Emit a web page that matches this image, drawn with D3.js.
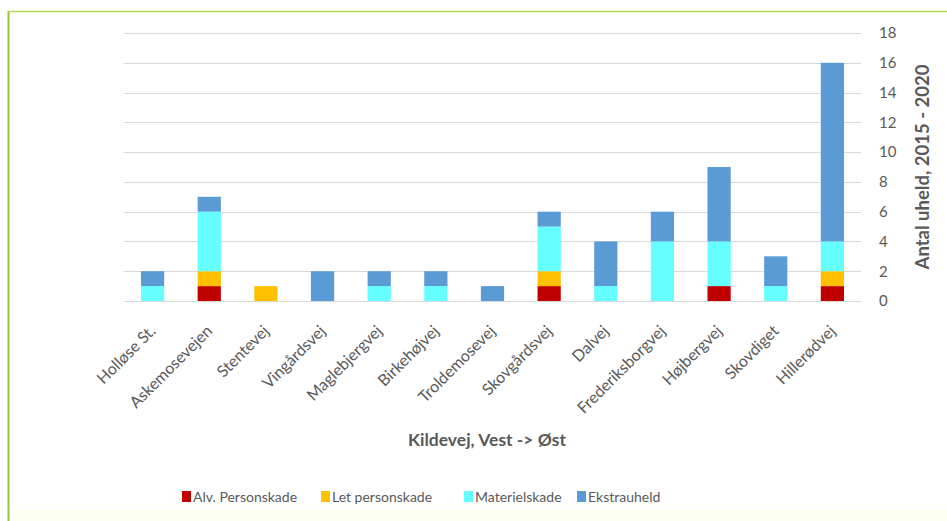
<!DOCTYPE html>
<html><head><meta charset="utf-8">
<script src="https://cdn.jsdelivr.net/npm/d3@7"></script>
<style>
html,body{margin:0;padding:0;background:#fff;}
svg{display:block;}
text{font-family:Lato, "Open Sans", sans-serif;}
</style></head>
<body>
<svg id="c" width="947" height="521"></svg>
<script>
const categories = ["Holløse St.","Askemosevejen","Stentevej","Vingårdsvej","Maglebjergvej","Birkehøjvej","Troldemosevej","Skovgårdsvej","Dalvej","Frederiksborgvej","Højbergvej","Skovdiget","Hillerødvej"];
const seriesNames = ["Alv. Personskade","Let personskade","Materielskade","Ekstrauheld"];
const alvPersonskade = [0,1,0,0,0,0,0,1,0,0,1,0,1];
const letPersonskade = [0,1,1,0,0,0,0,1,0,0,0,0,1];
const materielskade  = [1,4,0,0,1,1,0,3,1,4,3,1,2];
const ekstrauheld    = [1,1,0,2,1,1,1,1,3,2,5,2,12];
const yTicks = [0,2,4,6,8,10,12,14,16,18];
const colors = ["#C00000","#FFC000","#66FFFF","#5B9BD5"];

(function(){
const svg = d3.select("#c");
svg.append("rect").attr("x",0).attr("y",0).attr("width",947).attr("height",521).attr("fill","#fff");
svg.append("rect").attr("x",9).attr("y",510).attr("width",938).attr("height",11).attr("fill","#FDFFF3");
svg.append("line").attr("x1",8.5).attr("x2",8.5).attr("y1",11).attr("y2",521).attr("stroke","#9BC23C").attr("stroke-width",2);
svg.append("line").attr("x1",8).attr("x2",947).attr("y1",11.5).attr("y2",11.5).attr("stroke","#B5D65A").attr("stroke-width",1.5);

const pL=124, pR=861, pT=33, pB=301;
const x = d3.scaleBand().domain(categories).range([pL,pR]).paddingInner(0.59).paddingOuter(0.3);
const y = d3.scaleLinear().domain([0,18]).range([pB,pT]);

svg.append("g").selectAll("line").data(yTicks).join("line")
  .attr("x1",pL).attr("x2",pR)
  .attr("y1",d=>Math.round(y(d))+0.5).attr("y2",d=>Math.round(y(d))+0.5)
  .attr("stroke","#D9D9D9").attr("stroke-width",1.2);

const rows = categories.map((c,i)=>({cat:c,
  [seriesNames[0]]:alvPersonskade[i],[seriesNames[1]]:letPersonskade[i],
  [seriesNames[2]]:materielskade[i],[seriesNames[3]]:ekstrauheld[i]}));
const stack = d3.stack().keys(seriesNames)(rows);

svg.append("g").selectAll("g").data(stack).join("g")
  .attr("fill",(d,i)=>colors[i])
  .selectAll("rect").data(d=>d).join("rect")
  .attr("x",d=>x(d.data.cat)).attr("width",x.bandwidth())
  .attr("y",d=>y(d[1])).attr("height",d=>y(d[0])-y(d[1]));

const yAxis = d3.axisRight(y).tickValues(yTicks).tickSize(0).tickPadding(18);
const ga = svg.append("g").attr("transform",`translate(${pR},0)`).call(yAxis);
ga.select(".domain").remove();
ga.selectAll("text").attr("font-size",15).attr("fill","#595959").style("font-family","Lato, sans-serif");

const xAxis = d3.axisBottom(x).tickSize(0).tickPadding(0);
const gx = svg.append("g").attr("transform",`translate(0,${pB})`).call(xAxis);
gx.select(".domain").remove();
gx.selectAll("text")
  .attr("font-size",16).attr("fill","#595959")
  .attr("text-anchor","end").attr("dy",null).attr("y",0)
  .attr("transform","translate(4,31) rotate(-45)");

svg.append("text").attr("x",487).attr("y",446).attr("text-anchor","middle")
  .attr("font-size",17.5).attr("font-weight","bold").attr("fill","#595959")
  .text("Kildevej, Vest -> Øst");
svg.append("text").attr("transform","translate(929,167) rotate(-90)").attr("text-anchor","middle")
  .attr("font-size",18.5).attr("font-weight","bold").attr("fill","#595959")
  .text("Antal uheld, 2015 - 2020");

const legX = [182,321,464,577];
const lg = svg.append("g").selectAll("g").data(seriesNames).join("g")
  .attr("transform",(d,i)=>`translate(${legX[i]},497)`);
lg.append("rect").attr("x",0).attr("y",-6).attr("width",9).attr("height",11).attr("fill",(d,i)=>colors[i]);
lg.append("text").attr("x",11).attr("y",5).attr("font-size",14).attr("fill","#595959").text(d=>d);
})();
</script>
</body></html>
